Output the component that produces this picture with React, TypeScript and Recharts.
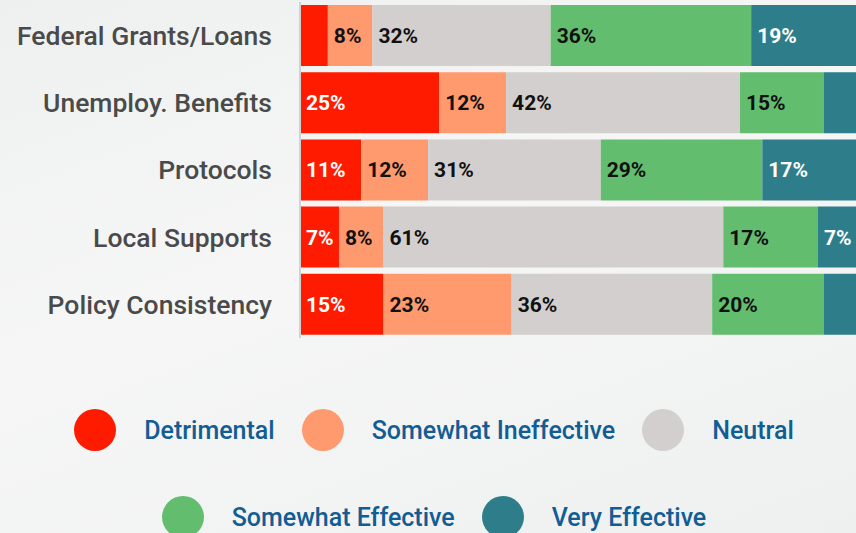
import { BarChart, Bar, XAxis, YAxis, Legend, LabelList } from 'recharts';

const categories = [
  'Federal Grants/Loans',
  'Unemploy. Benefits',
  'Protocols',
  'Local Supports',
  'Policy Consistency',
];

// percent of respondents per rating
const detrimental = [5, 25, 11, 7, 15];
const somewhatIneffective = [8, 12, 12, 8, 23];
const neutral = [32, 42, 31, 61, 36];
const somewhatEffective = [36, 15, 29, 17, 20];
const veryEffective = [19, 6, 17, 7, 6];

const series = [
  { key: 'detrimental', name: 'Detrimental', color: '#ff1b00', text: '#ffffff', values: detrimental },
  { key: 'somewhatIneffective', name: 'Somewhat Ineffective', color: '#ff9a6f', text: '#111111', values: somewhatIneffective },
  { key: 'neutral', name: 'Neutral', color: '#d3cfce', text: '#111111', values: neutral },
  { key: 'somewhatEffective', name: 'Somewhat Effective', color: '#63bd6e', text: '#111111', values: somewhatEffective },
  { key: 'veryEffective', name: 'Very Effective', color: '#2d7e8a', text: '#ffffff', values: veryEffective },
];

const data = categories.map((name, i) => {
  const row: Record<string, string | number> = { name };
  series.forEach(s => {
    row[s.key] = s.values[i];
  });
  return row;
});

const FONT = 'Roboto, "Noto Sans", sans-serif';

function LegendContent() {
  return (
    <div
      style={{
        display: 'flex',
        flexWrap: 'wrap',
        justifyContent: 'center',
        columnGap: 27,
        rowGap: 45,
        fontFamily: FONT,
      }}
    >
      {series.map(s => (
        <div key={s.key} style={{ display: 'flex', alignItems: 'center', height: 42 }}>
          <span
            style={{
              width: 42,
              height: 42,
              borderRadius: '50%',
              background: s.color,
              marginRight: 28,
              display: 'inline-block',
            }}
          />
          <span style={{ fontSize: 25, fontWeight: 500, color: '#125d94' }}>{s.name}</span>
        </div>
      ))}
    </div>
  );
}

export default function App() {
  return (
    <div
      style={{
        position: 'absolute',
        left: 0,
        top: 0,
        width: 856,
        height: 533,
        overflow: 'hidden',
        background: 'linear-gradient(160deg, #eef0f0 0%, #f6f6f6 45%, #eef0f0 100%)',
      }}
    >
      <BarChart
        width={861}
        height={533}
        data={data}
        layout="vertical"
        barCategoryGap={3}
        margin={{ top: 2, right: 4, bottom: 195, left: 0 }}
      >
        <XAxis type="number" domain={[0, 100]} hide />
        <YAxis
          type="category"
          dataKey="name"
          width={300}
          axisLine={{ stroke: '#d2d2d2', strokeWidth: 2 }}
          tickLine={false}
          tickSize={0}
          tickMargin={28}
          tick={{ fill: '#4a4a4a', fontSize: 26.5, fontWeight: 500, fontFamily: FONT }}
        />
        <Legend
          layout="horizontal"
          verticalAlign="middle"
          align="center"
          wrapperStyle={{ top: 409, left: 0, width: 868 }}
          content={<LegendContent />}
        />
        {series.map(s => (
          <Bar key={s.key} dataKey={s.key} name={s.name} stackId="a" fill={s.color} isAnimationActive={false}>
            <LabelList
              dataKey={s.key}
              position="insideLeft"
              offset={6}
              fill={s.text}
              style={{ fontFamily: FONT, fontSize: 21, fontWeight: 700 }}
              formatter={(v: number) => (v >= 7 ? `${v}%` : '')}
            />
          </Bar>
        ))}
      </BarChart>
    </div>
  );
}
